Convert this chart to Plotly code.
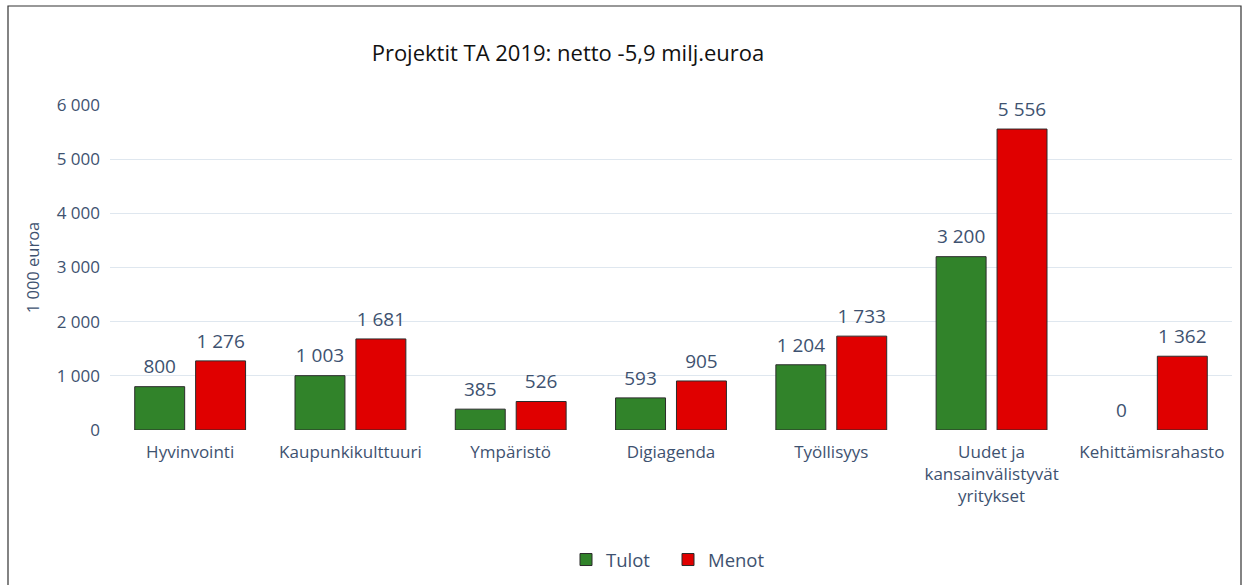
import plotly.graph_objects as go

categories = ["Hyvinvointi", "Kaupunkikulttuuri", "Ympäristö", "Digiagenda", "Työllisyys",
              "Uudet ja<br>kansainvälistyvät<br>yritykset", "Kehittämisrahasto"]
tulot = [800, 1003, 385, 593, 1204, 3200, 0]
menot = [1276, 1681, 526, 905, 1733, 5556, 1362]
y_ticks = [0, 1000, 2000, 3000, 4000, 5000, 6000]

W, H = 1249, 585
L, R, T, B = 110, 17, 105, 155
pw, ph = W - L - R, H - T - B

txt_col = "#3e5270"
font_fam = "Open Sans, Noto Sans, sans-serif"
series = [("Tulot", tulot, "#31832a"), ("Menot", menot, "#e00000")]

fig = go.Figure()
for name, vals, col in series:
    fig.add_trace(go.Bar(name=name, x=categories, y=vals, offsetgroup=name,
                         marker=dict(color=col, line=dict(color="#2b2b2b",
                                                          width=[1 if v > 0 else 0 for v in vals]))))
for name, vals, col in series:
    fig.add_trace(go.Scatter(x=categories, y=vals, text=[f"{v:,}".replace(",", " ") for v in vals],
                             mode="markers+text", textposition="top center", offsetgroup=name,
                             marker=dict(size=12, color="rgba(0,0,0,0)"),
                             textfont=dict(size=19, color=txt_col), showlegend=False,
                             hoverinfo="skip", cliponaxis=False))

def px_x(px):
    return (px - L) / pw

def px_y(py):
    return (H - B - py) / ph

fig.update_layout(
    width=W, height=H,
    margin=dict(l=L, r=R, t=T, b=B, autoexpand=False),
    paper_bgcolor="white", plot_bgcolor="white",
    separators=", ",
    font=dict(family=font_fam, color=txt_col),
    barmode="group", bargap=0.24, bargroupgap=0.18,
    scattermode="group", scattergap=0.24,
    title=dict(text="Projektit TA 2019: netto -5,9 milj.euroa", x=568 / W, xanchor="center",
               xref="container", yref="container", y=1 - 53 / H, yanchor="middle",
               font=dict(size=22, color="#111111", family=font_fam)),
    yaxis=dict(range=[0, 6000], tickvals=y_ticks, separatethousands=True, tickformat=",d",
               gridcolor="#dfe7ef", gridwidth=1, zeroline=False, showline=False, automargin=False,
               tickfont=dict(size=17, color=txt_col), ticklabelstandoff=9,
               title=dict(text="1 000 euroa", font=dict(size=16.5, color=txt_col), standoff=12)),
    xaxis=dict(tickfont=dict(size=17, color=txt_col), showline=False, ticks="", showgrid=False,
               ticklabelstandoff=10, automargin=False),
    legend=dict(orientation="h", x=px_x(668), xanchor="center", y=px_y(560), yanchor="middle",
                font=dict(size=18.5, color=txt_col), itemwidth=30, traceorder="normal",
                entrywidth=57, entrywidthmode="pixels"),
    shapes=[dict(type="rect", xref="paper", yref="paper", x0=px_x(8), x1=px_x(1241), y0=px_y(600), y1=px_y(6),
                 line=dict(color="#333333", width=1.2), fillcolor="rgba(0,0,0,0)", layer="below")],
)

fig.write_html("out.html", config={"displayModeBar": False},
               post_script="document.body.style.margin='0';document.body.style.overflow='hidden';")
